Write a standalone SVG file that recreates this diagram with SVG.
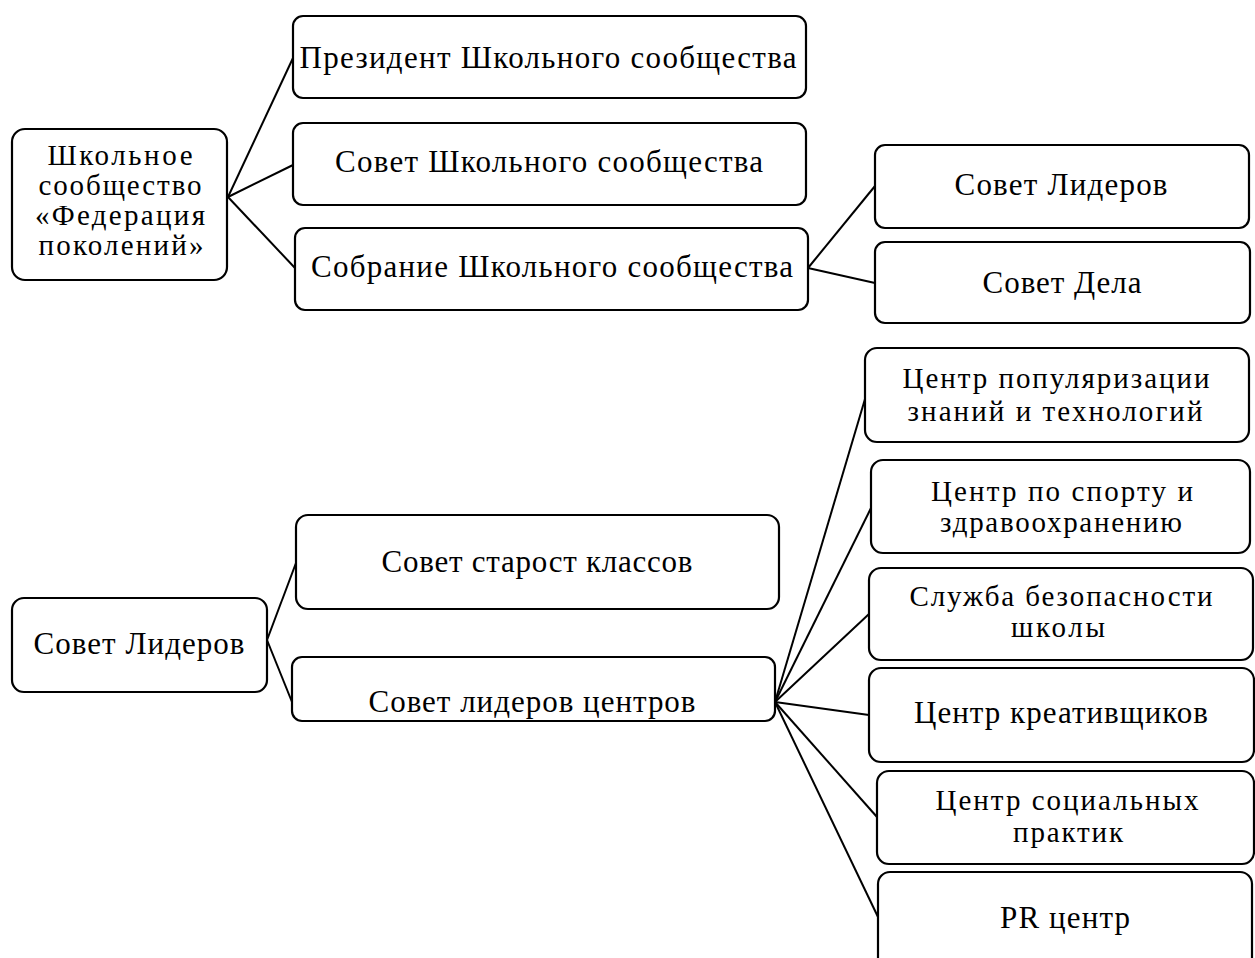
<svg xmlns="http://www.w3.org/2000/svg" width="1255" height="958" viewBox="0 0 1255 958">
<style>
.box{fill:#fff;stroke:#000;stroke-width:2.2}
.lbl{font-family:"Liberation Serif","Times New Roman",serif;font-size:31px;fill:#000;text-anchor:middle}
.ml{font-size:29px}
.con line{stroke:#000;stroke-width:2}
</style>
<rect width="1255" height="958" fill="#fff"/>
<g id="connectors" class="con">
<line x1="228" y1="197" x2="293" y2="58"/>
<line x1="228" y1="197" x2="293" y2="165"/>
<line x1="228" y1="197" x2="295" y2="268"/>
<line x1="808" y1="268" x2="875" y2="186"/>
<line x1="808" y1="268" x2="875" y2="283"/>
<line x1="267" y1="640" x2="296" y2="563"/>
<line x1="267" y1="640" x2="292" y2="702"/>
<line x1="775" y1="702" x2="865" y2="399"/>
<line x1="775" y1="702" x2="871" y2="508"/>
<line x1="775" y1="702" x2="869" y2="614"/>
<line x1="775" y1="702" x2="869" y2="715"/>
<line x1="775" y1="702" x2="877" y2="817"/>
<line x1="775" y1="702" x2="878" y2="917"/>
</g>
<g id="n_root">
<rect class="box" x="12" y="129" width="215" height="151" rx="13"/>
<text class="lbl ml"><tspan x="120" y="165" textLength="145">Школьное</tspan><tspan x="120" y="195" textLength="163">сообщество</tspan><tspan x="120" y="225" textLength="170">«Федерация</tspan><tspan x="121" y="255" textLength="165">поколений»</tspan></text>
</g>
<g id="n_president">
<rect class="box" x="293" y="16" width="513" height="82" rx="10"/>
<text class="lbl" x="548" y="68" textLength="497">Президент Школьного сообщества</text>
</g>
<g id="n_sovet_shk">
<rect class="box" x="293" y="123" width="513" height="82" rx="10"/>
<text class="lbl" x="549" y="172" textLength="428">Совет Школьного сообщества</text>
</g>
<g id="n_sobranie">
<rect class="box" x="295" y="228" width="513" height="82" rx="10"/>
<text class="lbl" x="552" y="277" textLength="482">Собрание Школьного сообщества</text>
</g>
<g id="n_sovet_lid_top">
<rect class="box" x="875" y="145" width="374" height="83" rx="10"/>
<text class="lbl" x="1061" y="195" textLength="213">Совет Лидеров</text>
</g>
<g id="n_sovet_dela">
<rect class="box" x="875" y="242" width="375" height="81" rx="10"/>
<text class="lbl" x="1062" y="293" textLength="159">Совет Дела</text>
</g>
<g id="n_sovet_lid_bottom">
<rect class="box" x="12" y="598" width="255" height="94" rx="12"/>
<text class="lbl" x="139" y="654" textLength="211">Совет Лидеров</text>
</g>
<g id="n_starost">
<rect class="box" x="296" y="515" width="483" height="94" rx="12"/>
<text class="lbl" x="537" y="572" textLength="311">Совет старост классов</text>
</g>
<g id="n_lid_centrov">
<rect class="box" x="292" y="657" width="483" height="64" rx="10"/>
<text class="lbl" x="532" y="712" textLength="327">Совет лидеров центров</text>
</g>
<g id="n_popul">
<rect class="box" x="865" y="348" width="384" height="94" rx="12"/>
<text class="lbl ml"><tspan x="1056" y="388" textLength="307">Центр популяризации</tspan><tspan x="1055" y="421" textLength="295">знаний и технологий</tspan></text>
</g>
<g id="n_sport">
<rect class="box" x="871" y="460" width="379" height="93" rx="12"/>
<text class="lbl ml"><tspan x="1062" y="501" textLength="262">Центр по спорту и</tspan><tspan x="1061" y="532" textLength="242">здравоохранению</tspan></text>
</g>
<g id="n_sluzhba">
<rect class="box" x="869" y="568" width="384" height="92" rx="12"/>
<text class="lbl ml"><tspan x="1061" y="606" textLength="303">Служба безопасности</tspan><tspan x="1058" y="637" textLength="94">школы</tspan></text>
</g>
<g id="n_kreativ">
<rect class="box" x="869" y="668" width="385" height="94" rx="12"/>
<text class="lbl" x="1061" y="723" textLength="294">Центр креативщиков</text>
</g>
<g id="n_social">
<rect class="box" x="877" y="771" width="377" height="93" rx="12"/>
<text class="lbl ml"><tspan x="1067" y="810" textLength="263">Центр социальных</tspan><tspan x="1068" y="842" textLength="110">практик</tspan></text>
</g>
<g id="n_pr">
<rect class="box" x="878" y="872" width="374" height="100" rx="12"/>
<text class="lbl" x="1065" y="928" textLength="130">PR центр</text>
</g>
</svg>
